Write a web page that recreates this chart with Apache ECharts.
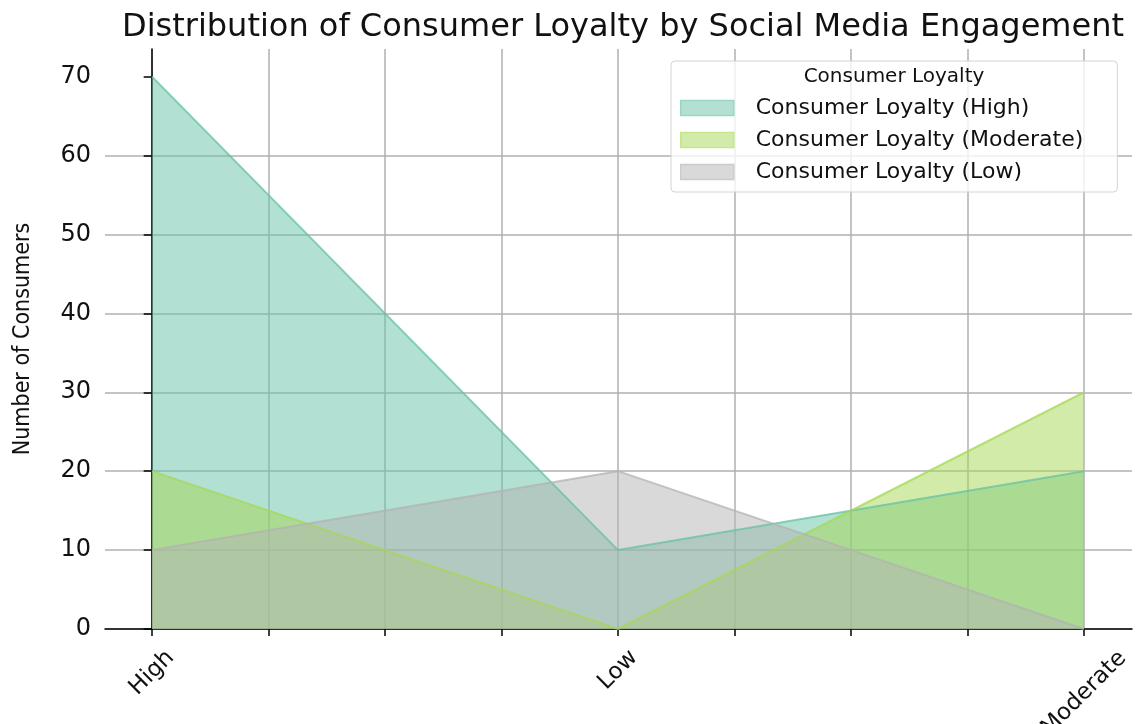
<!DOCTYPE html>
<html>
<head>
<meta charset="utf-8">
<title>Consumer Loyalty</title>
<script src="https://cdn.jsdelivr.net/npm/echarts@6/dist/echarts.min.js"></script>
<style>
    html, body { margin: 0; padding: 0; background: #fff; }
    #chart { width: 1145px; height: 724px; }
</style>
</head>
<body>
<div id="chart"></div>
<script>
// engagement levels on the x axis
const categories = ['High', 'Low', 'Moderate']
// consumers per loyalty group
const loyaltyHigh = [70, 10, 20]
const loyaltyModerate = [20, 0, 30]
const loyaltyLow = [10, 20, 0]
const yTicks = [0, 10, 20, 30, 40, 50, 60, 70]
const seriesNames = ['Consumer Loyalty (High)', 'Consumer Loyalty (Moderate)', 'Consumer Loyalty (Low)']
const colors = ['#66c2a5', '#a6d854', '#b3b3b3']
const legendColors = ['#b3e0d2', '#d3ebaa', '#d9d9d9']
const legendBorders = ['#99d6c3', '#c3e68a', '#cccccc']

const font = '"DejaVu Sans", sans-serif'
const gridTop = 49
const gridBottom = 95

const toPoints = arr => arr.map((v, i) => [i, v])

// rotated labels hang from a common top edge, so longer ones sit lower:
// push each one down by a padding in its own (rotated) frame
const labelShift = [4, 0, 33]
const labelRich = {}
categories.forEach((c, i) => {
    const p = labelShift[i]
    labelRich['c' + i] = {
        fontFamily: font,
        fontSize: 23,
        color: '#111',
        padding: [p, p, 0, 0]
    }
})

const chart = echarts.init(document.getElementById('chart'))

const option = {
    animation: false,
    title: {
        text: 'Distribution of Consumer Loyalty by Social Media Engagement',
        left: 618,
        top: 7,
        textAlign: 'center',
        textStyle: { fontFamily: font, fontSize: 32, fontWeight: 'normal', color: '#111' }
    },
    // outer grid: spines + horizontal grid lines; inner grid: data range 0..2
    grid: [
        { left: 105, right: 13, top: gridTop, bottom: gridBottom, outerBoundsMode: 'none', containLabel: false },
        { left: 152, right: 61, top: gridTop, bottom: gridBottom, outerBoundsMode: 'none', containLabel: false }
    ],
    xAxis: [
        {
            gridIndex: 0,
            type: 'value',
            min: -0.1,
            max: 2.1,
            axisLine: { lineStyle: { color: '#000', width: 1.5 } },
            axisTick: { show: false },
            axisLabel: { show: false },
            splitLine: { show: false }
        },
        {
            gridIndex: 1,
            type: 'value',
            min: 0,
            max: 2,
            interval: 0.25,
            axisLine: { show: false },
            axisTick: { show: true, length: 7, lineStyle: { color: '#000', width: 1.5 } },
            axisLabel: {
                customValues: [0, 1, 2],
                formatter: v => {
                    const i = Math.round(v)
                    return '{c' + i + '|' + categories[i] + '}'
                },
                rich: labelRich,
                rotate: 45,
                align: 'center',
                verticalAlign: 'middle',
                margin: 41,
                fontFamily: font,
                fontSize: 23,
                color: '#111'
            },
            splitLine: { show: true, lineStyle: { color: '#b0b0b0', width: 1.5 } }
        }
    ],
    yAxis: [
        {
            gridIndex: 0,
            type: 'value',
            min: 0,
            max: 73.5,
            interval: 10,
            name: 'Number of Consumers',
            nameLocation: 'middle',
            nameGap: 70,
            nameTextStyle: { fontFamily: '"DejaVu Sans Condensed", "DejaVu Sans", sans-serif', fontSize: 23, color: '#111' },
            axisLine: { show: true, lineStyle: { color: '#000', width: 1.5 } },
            axisTick: { show: true, length: 8, customValues: yTicks, lineStyle: { color: '#000', width: 1.5 } },
            axisLabel: { customValues: yTicks, margin: 14, fontFamily: font, fontSize: 24, color: '#111', padding: [4, 0, 0, 0] },
            splitLine: { show: true, showMaxLine: false, lineStyle: { color: '#b0b0b0', width: 1.5 } }
        },
        {
            gridIndex: 1,
            type: 'value',
            min: 0,
            max: 73.5,
            show: false,
            splitLine: { show: false }
        }
    ],
    legend: {
        left: 671,
        top: 61,
        orient: 'vertical',
        padding: [36, 34, 9, 9],
        itemWidth: 53,
        itemHeight: 15,
        itemGap: 10,
        backgroundColor: 'rgba(255,255,255,0.8)',
        borderColor: '#d4d4d4',
        borderWidth: 1,
        borderRadius: 4,
        textStyle: { fontFamily: font, fontSize: 22, color: '#111', padding: [0, 0, 0, 17] },
        data: seriesNames.map((name, i) => ({
            name,
            icon: 'rect',
            itemStyle: { color: legendColors[i], borderColor: legendBorders[i], borderWidth: 1.5, opacity: 1 }
        }))
    },
    graphic: [
        {
            type: 'text',
            x: 894,
            y: 77,
            z: 100,
            style: {
                text: 'Consumer Loyalty',
                align: 'center',
                verticalAlign: 'middle',
                font: '20px ' + font,
                fill: '#111'
            }
        }
    ],
    series: [loyaltyHigh, loyaltyModerate, loyaltyLow].map((arr, i) => ({
        name: seriesNames[i],
        type: 'line',
        xAxisIndex: 1,
        yAxisIndex: 1,
        data: toPoints(arr),
        showSymbol: false,
        symbol: 'none',
        lineStyle: { color: colors[i], width: 2, opacity: 0.75 },
        itemStyle: { color: colors[i] },
        areaStyle: { color: colors[i], opacity: 0.5 },
        emphasis: { disabled: true }
    }))
}

chart.setOption(option)

window.addEventListener('resize', () => chart.resize())
</script>
</body>
</html>
